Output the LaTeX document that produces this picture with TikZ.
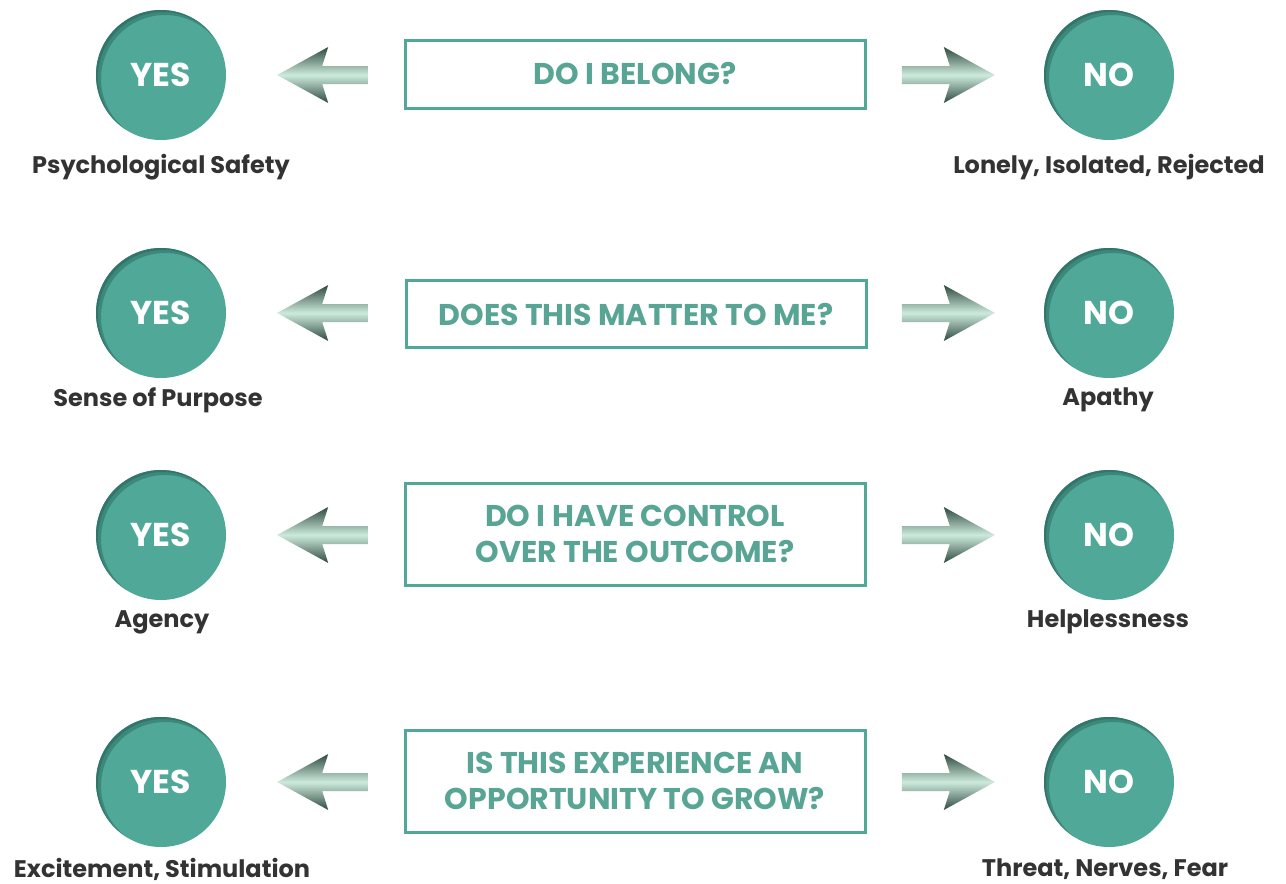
\documentclass[tikz,border=0pt]{standalone}
\usepackage{fontspec}
\setmainfont{Poppins}
\usetikzlibrary{calc}
\definecolor{teal1}{HTML}{4FA898}
\definecolor{tealdark}{HTML}{2A6A5E}
\definecolor{qtext}{HTML}{58A595}
\definecolor{lbl}{HTML}{333333}
\definecolor{arrdark}{HTML}{2F4A40}
\definecolor{arrlight}{HTML}{CDEBDC}
\tikzset{
  circ/.style={circle, fill=teal1, minimum size=130pt, inner sep=0pt},
  ctext/.style={text=white, font=\bfseries\fontsize{33}{33}\selectfont},
  qbox/.style={draw=teal1, line width=3pt, minimum width=460pt, text=qtext, align=center, font=\bfseries\fontsize{30}{36}\selectfont},
  lab/.style={text=lbl, font=\bfseries\fontsize{24}{24}\selectfont},
  larrow/.pic={\shade[top color=arrdark, bottom color=arrdark, middle color=arrlight]
     (0,0) -- (51,-28) -- (45,-9) -- (91,-9) -- (91,9) -- (45,9) -- (51,28) -- cycle;},
  rarrow/.pic={\shade[top color=arrdark, bottom color=arrdark, middle color=arrlight]
     (0,0) -- (-51,-28) -- (-45,-9) -- (-93,-9) -- (-93,9) -- (-45,9) -- (-51,28) -- cycle;}
}
\newcommand{\insetshadow}[1]{%
  \begin{scope}
    \clip (#1) circle (65pt);
    \draw[tealdark, line width=8pt, opacity=0.5] ($(#1)+(4pt,-4pt)$) circle (68pt);
    \draw[tealdark, line width=8pt, opacity=0.6] ($(#1)+(2pt,-2pt)$) circle (69pt);
  \end{scope}}
\begin{document}
\begin{tikzpicture}[x=1pt,y=-1pt]
\useasboundingbox[fill=white] (0,0) rectangle (1286,884);
% row 1
\node[circ] (yes1) at (161,75) {};
\node[circ] (no1) at (1109,75) {};
\node[qbox, minimum height=68pt] (q1) at (635,74) {DO I BELONG?};
\node[lab] (ly1) at (161,167) {Psychological Safety};
\node[lab] (ln1) at (1109,167) {Lonely, Isolated, Rejected};
% row 2
\node[circ] (yes2) at (161,313) {};
\node[circ] (no2) at (1109,313) {};
\node[qbox, minimum height=67pt] (q2) at (636,314) {DOES THIS MATTER TO ME?};
\node[lab] (ly2) at (158,400) {Sense of Purpose};
\node[lab] (ln2) at (1108,400) {Apathy};
% row 3
\node[circ] (yes3) at (161,535) {};
\node[circ] (no3) at (1109,535) {};
\node[qbox, minimum height=102pt] (q3) at (635,534) {DO I HAVE CONTROL\\OVER THE OUTCOME?};
\node[lab] (ly3) at (162,622) {Agency};
\node[lab] (ln3) at (1108,622) {Helplessness};
% row 4
\node[circ] (yes4) at (161,782) {};
\node[circ] (no4) at (1109,782) {};
\node[qbox, minimum height=102pt] (q4) at (635,781) {IS THIS EXPERIENCE AN\\OPPORTUNITY TO GROW?};
\node[lab] (ly4) at (162,869) {Excitement, Stimulation};
\node[lab] (ln4) at (1105,869) {Threat, Nerves, Fear};
% inset shadows and circle texts
\foreach \c in {yes1,no1,yes2,no2,yes3,no3,yes4,no4}{\insetshadow{\c.center}}
\foreach \c/\t in {yes1/YES,yes2/YES,yes3/YES,yes4/YES,no1/NO,no2/NO,no3/NO,no4/NO}{
  \node[ctext] (t\c) at (\c.center) {\t};}
% arrows
\foreach \r in {1,2,3,4}{
  \pic at ($(yes\r.east)+(51,0)$) {larrow};
  \pic at ($(no\r.west)+(-49,0)$) {rarrow};
}
\end{tikzpicture}
\end{document}
